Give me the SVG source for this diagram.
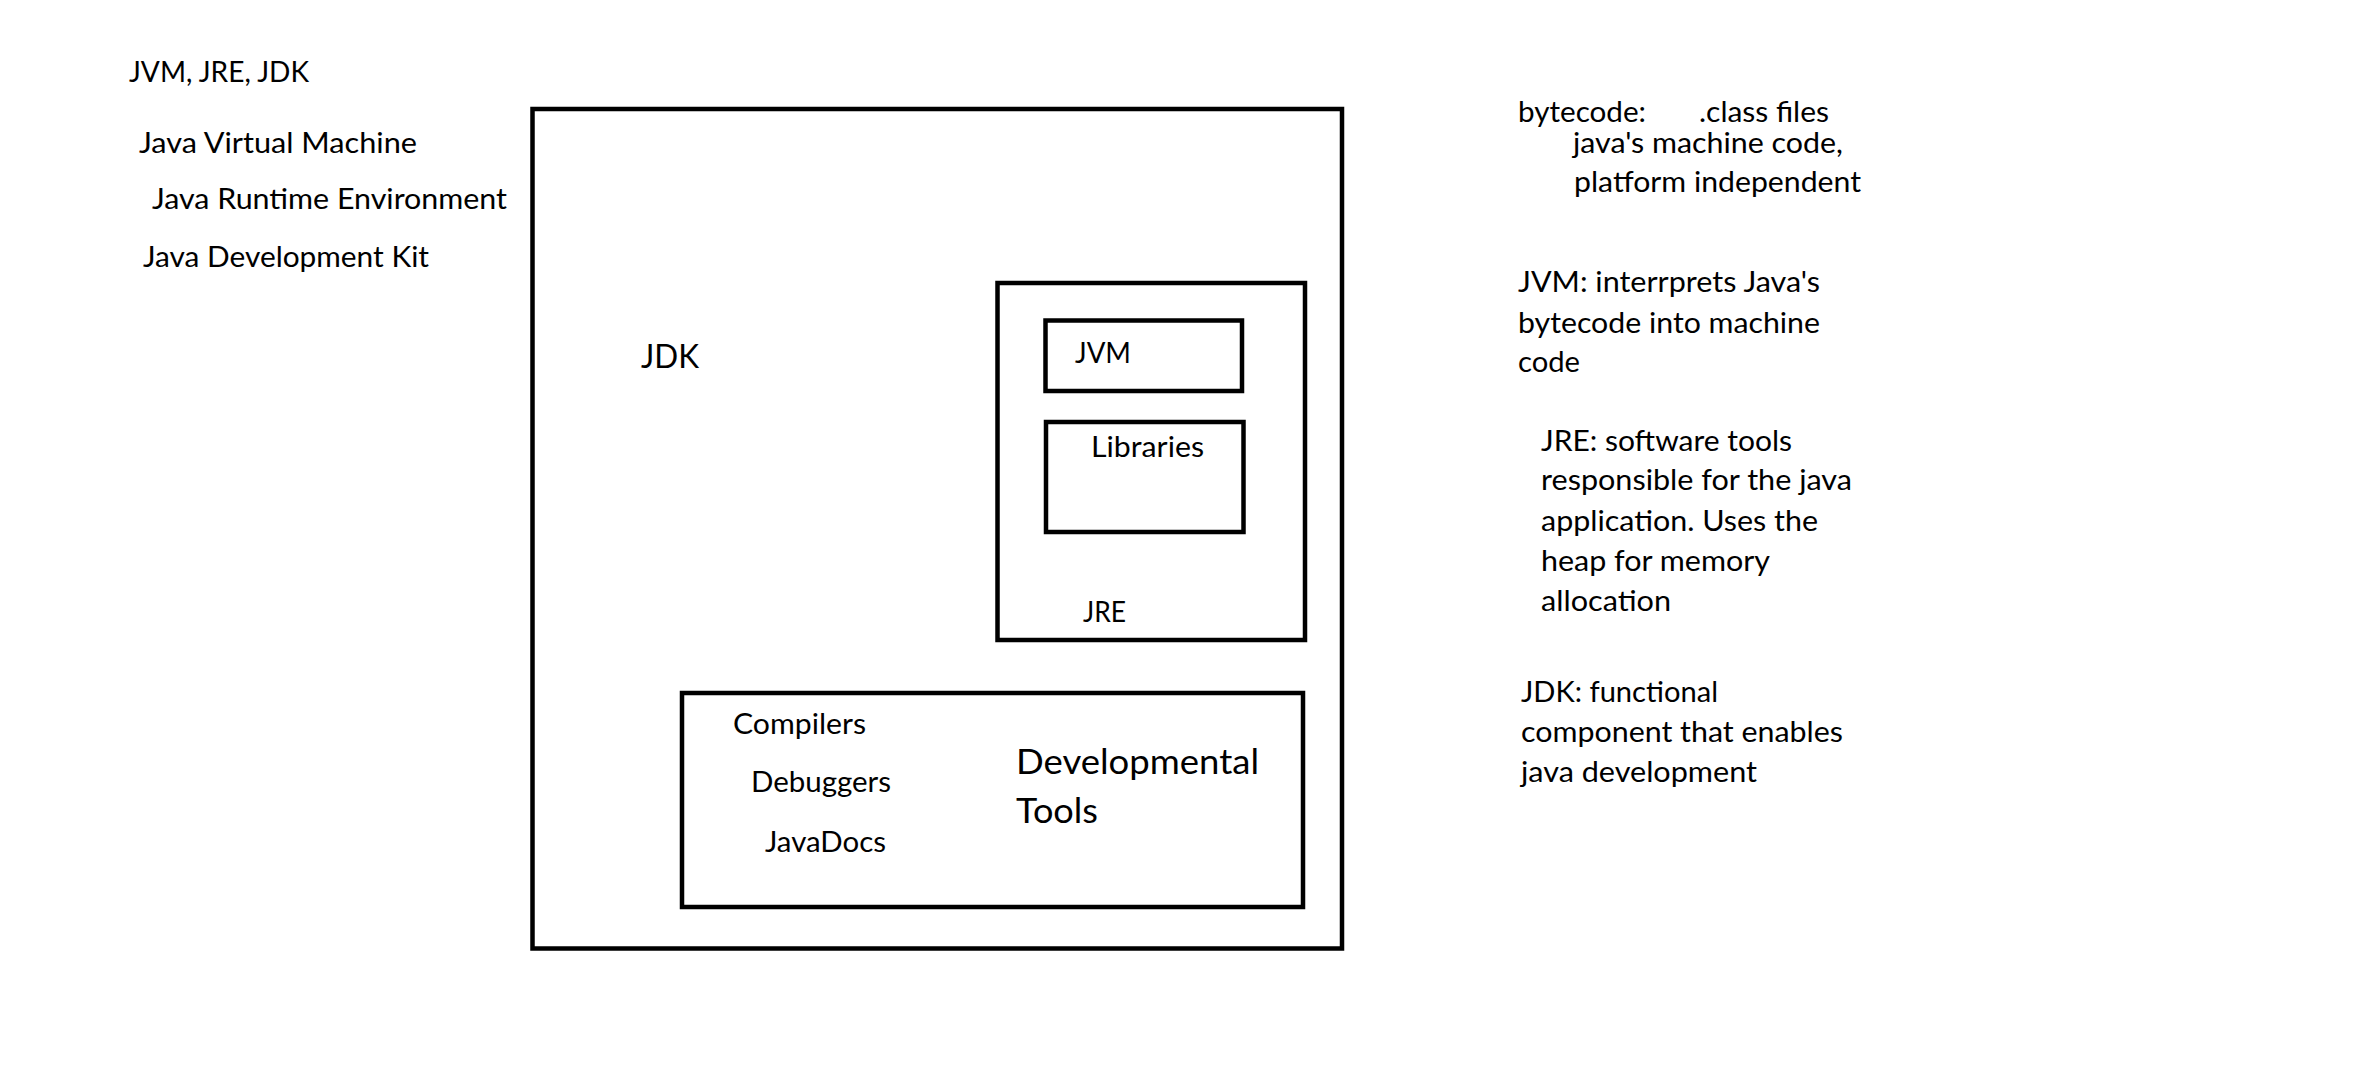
<svg xmlns="http://www.w3.org/2000/svg" width="2373" height="1080" viewBox="0 0 2373 1080">
<style>
.box{fill:none;stroke:#000;stroke-width:4.5}
text{font-family:Lato,"Carlito","Open Sans",sans-serif;fill:#000;font-size:28px}
.big{font-size:32px}
.dev{font-size:35px}
</style>
<rect width="2373" height="1080" fill="#fff"/>
<g id="notes-left">
<text x="129" y="82" textLength="180" lengthAdjust="spacingAndGlyphs">JVM, JRE, JDK</text>
<text x="139" y="153" textLength="278" lengthAdjust="spacingAndGlyphs">Java Virtual Machine</text>
<text x="152" y="209" textLength="355" lengthAdjust="spacingAndGlyphs">Java Runtime Environment</text>
<text x="143" y="267" textLength="286" lengthAdjust="spacingAndGlyphs">Java Development Kit</text>
</g>
<g id="jdk">
<rect class="box" x="532.5" y="109" width="809.5" height="839.5"/>
<text class="big" x="641" y="368" textLength="58" lengthAdjust="spacingAndGlyphs">JDK</text>
</g>
<g id="jre">
<rect class="box" x="997.5" y="283" width="307.5" height="357"/>
<text x="1083" y="622" textLength="43" lengthAdjust="spacingAndGlyphs">JRE</text>
</g>
<g id="jvm">
<rect class="box" x="1045.5" y="320.5" width="196.5" height="70.5"/>
<text x="1075" y="363" textLength="56" lengthAdjust="spacingAndGlyphs">JVM</text>
</g>
<g id="libraries">
<rect class="box" x="1046" y="422" width="197.5" height="110"/>
<text x="1091" y="457" textLength="113" lengthAdjust="spacingAndGlyphs">Libraries</text>
</g>
<g id="devtools">
<rect class="box" x="682" y="693" width="621" height="214"/>
<text x="733" y="734" textLength="133" lengthAdjust="spacingAndGlyphs">Compilers</text>
<text x="751" y="792" textLength="140" lengthAdjust="spacingAndGlyphs">Debuggers</text>
<text x="765" y="852" textLength="121" lengthAdjust="spacingAndGlyphs">JavaDocs</text>
<text class="dev" x="1016" y="774" textLength="243" lengthAdjust="spacingAndGlyphs">Developmental</text>
<text class="dev" x="1016" y="823" textLength="82" lengthAdjust="spacingAndGlyphs">Tools</text>
</g>
<g id="connectors"></g>
<g id="notes-right">
<text x="1518" y="122" textLength="128" lengthAdjust="spacingAndGlyphs">bytecode:</text>
<text x="1699" y="122" textLength="130" lengthAdjust="spacingAndGlyphs">.class files</text>
<text x="1573" y="153" textLength="270" lengthAdjust="spacingAndGlyphs">java's machine code,</text>
<text x="1574" y="192" textLength="287" lengthAdjust="spacingAndGlyphs">platform independent</text>
<text x="1518" y="292" textLength="302" lengthAdjust="spacingAndGlyphs">JVM: interrprets Java's</text>
<text x="1518" y="333" textLength="302" lengthAdjust="spacingAndGlyphs">bytecode into machine</text>
<text x="1518" y="372" textLength="62" lengthAdjust="spacingAndGlyphs">code</text>
<text x="1541" y="451" textLength="251" lengthAdjust="spacingAndGlyphs">JRE: software tools</text>
<text x="1541" y="490" textLength="311" lengthAdjust="spacingAndGlyphs">responsible for the java</text>
<text x="1541" y="531" textLength="277" lengthAdjust="spacingAndGlyphs">application. Uses the</text>
<text x="1541" y="571" textLength="229" lengthAdjust="spacingAndGlyphs">heap for memory</text>
<text x="1541" y="611" textLength="130" lengthAdjust="spacingAndGlyphs">allocation</text>
<text x="1521" y="702" textLength="197" lengthAdjust="spacingAndGlyphs">JDK: functional</text>
<text x="1521" y="742" textLength="322" lengthAdjust="spacingAndGlyphs">component that enables</text>
<text x="1521" y="782" textLength="236" lengthAdjust="spacingAndGlyphs">java development</text>
</g>
</svg>
